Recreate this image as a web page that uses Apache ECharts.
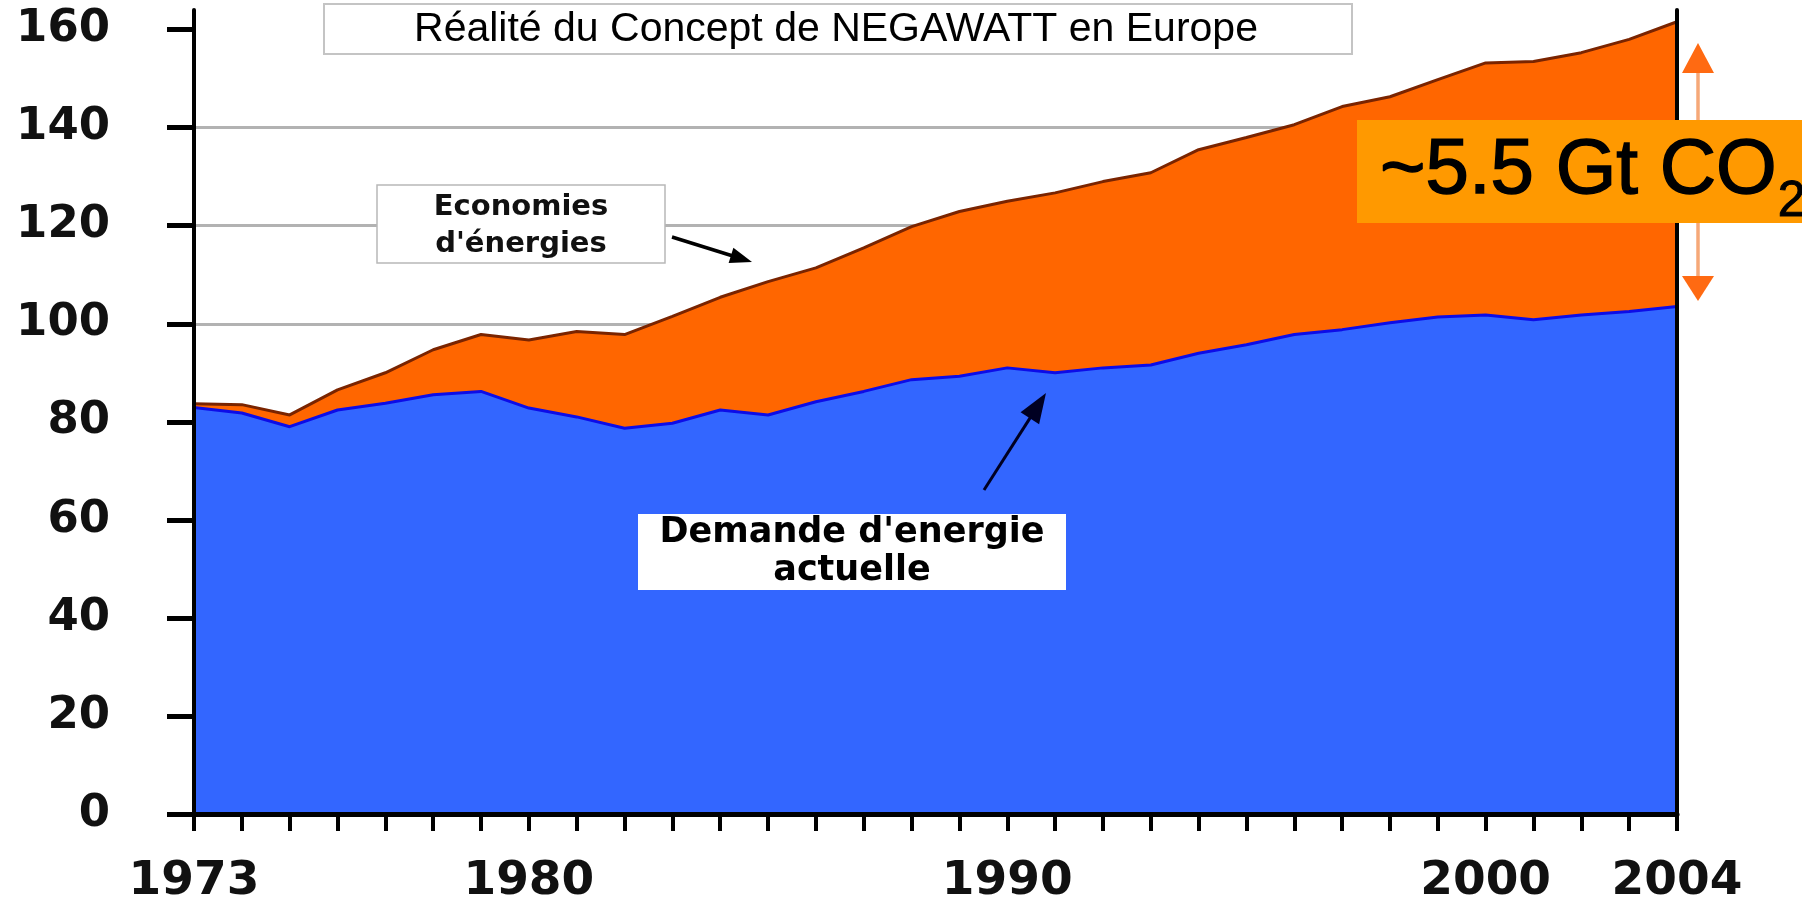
<!DOCTYPE html>
<html><head><meta charset="utf-8">
<script src="https://cdn.jsdelivr.net/npm/echarts@6/dist/echarts.min.js"></script>
<style>html,body{margin:0;padding:0;background:#fff}#c{width:1817px;height:899px}</style>
</head><body><div id="c"></div>
<script>
// ---- data ----
const years = ['1973','1974','1975','1976','1977','1978','1979','1980','1981','1982','1983','1984','1985','1986','1987','1988','1989','1990','1991','1992','1993','1994','1995','1996','1997','1998','1999','2000','2001','2002','2003','2004'];
// actual energy demand (blue area)
const demand = [82.9, 81.8, 79.0, 82.4, 83.8, 85.5, 86.2, 82.8, 81.0, 78.7, 79.7, 82.4, 81.4, 84.1, 86.2, 88.6, 89.3, 91.0, 90.0, 91.0, 91.6, 94.0, 95.7, 97.8, 98.8, 100.2, 101.4, 101.8, 100.8, 101.8, 102.5, 103.5];
// demand without savings (top of orange area)
const total = [83.7, 83.5, 81.4, 86.5, 90.0, 94.7, 97.8, 96.7, 98.4, 97.8, 101.5, 105.4, 108.6, 111.4, 115.5, 119.8, 122.9, 125.0, 126.7, 129.0, 130.8, 135.5, 138.0, 140.6, 144.3, 146.3, 149.8, 153.2, 153.5, 155.3, 158.0, 161.6];
const yTicks = [0, 20, 40, 60, 80, 100, 120, 140, 160];
const xLabelYears = ['1973', '1980', '1990', '2000', '2004'];
const titleText = 'Réalité du Concept de NEGAWATT en Europe';
const savingsLabel = ['Economies', "d'énergies"];
const demandLabel = ["Demande d'energie", 'actuelle'];
const co2Main = '~5.5 Gt CO';
const co2Sub = '2';

// ---- helpers ----
function arrow(x1, y1, x2, y2, color, w, hl, hw, lineColor) {
  const dx = x2 - x1, dy = y2 - y1, L = Math.sqrt(dx*dx + dy*dy);
  const ux = dx / L, uy = dy / L, px = -uy, py = ux;
  const bx = x2 - ux*hl, by = y2 - uy*hl;
  return [
    {type:'line', z:100, shape:{x1:x1, y1:y1, x2:bx + ux*2, y2:by + uy*2}, style:{stroke: lineColor || color, lineWidth:w}},
    {type:'polygon', z:100, shape:{points:[[x2,y2],[bx+px*hw, by+py*hw],[bx-px*hw, by-py*hw]]}, style:{fill:color}}
  ];
}
function measure(txt, font) {
  const c = document.createElement('canvas').getContext('2d');
  c.font = font; return c.measureText(txt).width;
}

const chart = echarts.init(document.getElementById('c'), null, {renderer:'canvas'});
const labelFont = 'DejaVu Sans';
const co2Font = '78px "Liberation Sans"';
const co2W = measure(co2Main, co2Font);

const graphics = [
  // title box
  {type:'rect', z:100, shape:{x:324, y:4, width:1028, height:50}, style:{fill:'#fff', stroke:'#c4c4c4', lineWidth:2}},
  {type:'text', z:101, style:{text:titleText, x:836, y:30, align:'center', verticalAlign:'middle', font:'41px "Liberation Sans"', fill:'#000'}},
  // savings label box
  {type:'rect', z:100, shape:{x:377, y:185, width:288, height:78}, style:{fill:'#fff', stroke:'#b8b8b8', lineWidth:1.5}},
  {type:'text', z:101, style:{text:savingsLabel[0], x:521, y:207, align:'center', verticalAlign:'middle', font:'bold 29px "' + labelFont + '"', fill:'#111'}},
  {type:'text', z:101, style:{text:savingsLabel[1], x:521, y:244, align:'center', verticalAlign:'middle', font:'bold 29px "' + labelFont + '"', fill:'#111'}},
  ...arrow(672, 237, 752, 262, '#000', 3.5, 22, 8),
  // demand label box
  {type:'rect', z:100, shape:{x:638, y:514, width:428, height:76}, style:{fill:'#fff'}},
  {type:'text', z:101, style:{text:demandLabel[0], x:852, y:533, align:'center', verticalAlign:'middle', font:'bold 35px "' + labelFont + '"', fill:'#000'}},
  {type:'text', z:101, style:{text:demandLabel[1], x:852, y:571, align:'center', verticalAlign:'middle', font:'bold 35px "' + labelFont + '"', fill:'#000'}},
  ...arrow(984, 490, 1046, 393, '#000022', 3, 30, 11),
  // double arrow at the right
  {type:'line', z:100, shape:{x1:1698, y1:70, x2:1698, y2:280}, style:{stroke:'#F6A878', lineWidth:3.5}},
  {type:'polygon', z:100, shape:{points:[[1698,43],[1682,73],[1714,73]]}, style:{fill:'#FF6A12'}},
  {type:'polygon', z:100, shape:{points:[[1698,301],[1682,276],[1714,276]]}, style:{fill:'#FF6A12'}},
  // CO2 box
  {type:'rect', z:102, shape:{x:1357, y:120, width:445, height:103}, style:{fill:'#FF9900'}},
  {type:'text', z:103, style:{text:co2Main, x:1380, y:171, align:'left', verticalAlign:'middle', font:co2Font, fill:'#000', stroke:'#000', lineWidth:1.5}},
  {type:'text', z:103, style:{text:co2Sub, x:1380 + co2W + 1, y:202, align:'left', verticalAlign:'middle', font:'50px "Liberation Sans"', fill:'#000', stroke:'#000', lineWidth:1}},
  {type:'rect', z:104, shape:{x:1802, y:110, width:20, height:130}, style:{fill:'#fff'}}
];

const yBase = {type:'value', min:0, max:164, interval:20};
chart.setOption({
  animation:false,
  backgroundColor:'#fff',
  grid:{left:194, right:140, top:10, bottom:85, containLabel:false, outerBoundsMode:'none'},
  xAxis:{
    type:'category', data:years, boundaryGap:false, z:10,
    axisLine:{show:true, lineStyle:{color:'#000', width:5}},
    axisTick:{show:true, interval:0, length:17, lineStyle:{color:'#000', width:4}},
    axisLabel:{interval:(i, v) => xLabelYears.indexOf(v) >= 0, margin:44, color:'#111',
      fontFamily:labelFont, fontWeight:'bold', fontSize:47},
    splitLine:{show:false}
  },
  yAxis:[
    Object.assign({}, yBase, {position:'left', z:0,
      axisLine:{show:false}, axisTick:{show:false, customValues:yTicks}, axisLabel:{show:false, customValues:yTicks},
      splitLine:{show:true, showMaxLine:false, lineStyle:{color:'#b2b2b2', width:3}}}),
    Object.assign({}, yBase, {position:'left', z:10,
      axisLine:{show:true, onZero:false, lineStyle:{color:'#000', width:4}},
      axisTick:{show:true, customValues:yTicks, length:27, lineStyle:{color:'#000', width:5}},
      axisLabel:{show:true, customValues:yTicks, margin:84, color:'#111', fontFamily:labelFont, fontWeight:'bold', fontSize:45},
      splitLine:{show:false}}),
    Object.assign({}, yBase, {position:'right', z:10,
      axisLine:{show:true, onZero:false, lineStyle:{color:'#000', width:4}},
      axisTick:{show:false}, axisLabel:{show:false}, splitLine:{show:false}})
  ],
  series:[
    {type:'line', name:"Economies d'énergies", data:total, yAxisIndex:0, symbol:'none', z:2,
      lineStyle:{color:'#7a2400', width:3}, areaStyle:{color:'#FF6600', opacity:1}},
    {type:'line', name:"Demande d'energie actuelle", data:demand, yAxisIndex:0, symbol:'none', z:3,
      lineStyle:{color:'#0c0ce8', width:3}, areaStyle:{color:'#3366FF', opacity:1}}
  ],
  graphic:graphics
});
</script></body></html>
